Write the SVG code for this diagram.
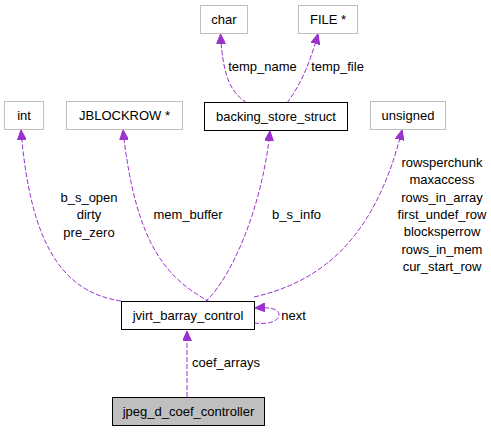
<svg xmlns="http://www.w3.org/2000/svg" width="491" height="432" viewBox="0 0 491 432">
<defs>
<style>
.n rect{fill:#fff;stroke:#bfbfbf;stroke-width:1}
.n.s rect{stroke:#000}
.n.h rect{fill:#bfbfbf;stroke:#000}
text{font-family:"Liberation Sans",Arial,sans-serif;font-size:13px;fill:#000}
.n text{text-anchor:middle}
.e path{fill:none;stroke:#9a32cd;stroke-width:1;stroke-dasharray:5,2;marker-end:url(#a)}
.l text{text-anchor:middle}
</style>
<marker id="a" markerUnits="userSpaceOnUse" markerWidth="11" markerHeight="9" refX="10" refY="4.5" orient="auto">
<path d="M0,0 L10,4.5 L0,9 z" fill="#9a32cd" stroke="#9a32cd"/>
</marker>
</defs>
<rect width="491" height="432" fill="#fff"/>
<g id="edges" class="e">
<path d="M247,103 C232,93 223,80 220.5,34"/>
<path d="M287,103 C298,88 308,70 318,34"/>
<path d="M121,301 C60,292 30,240 21,130"/>
<path d="M210,302 C170,280 136,250 123,130"/>
<path d="M205,302 C230,280 262,210 270,131"/>
<path d="M254,297 C320,282 375,240 402,130"/>
<path d="M254,323 C268,325 279,321 279,315 C279,309 271,307 255,308"/>
<path d="M187,397 L187,331"/>
</g>
<g class="l">
<text x="262.5" y="71">temp_name</text>
<text x="337.5" y="71">temp_file</text>
<text x="89" y="202">b_s_open</text>
<text x="89" y="219">dirty</text>
<text x="89" y="237">pre_zero</text>
<text x="188" y="219">mem_buffer</text>
<text x="296.5" y="219">b_s_info</text>
<text x="442" y="167">rowsperchunk</text>
<text x="442" y="184">maxaccess</text>
<text x="442" y="202">rows_in_array</text>
<text x="442" y="219">first_undef_row</text>
<text x="442" y="236">blocksperrow</text>
<text x="442" y="254">rows_in_mem</text>
<text x="442" y="271">cur_start_row</text>
<text x="293.5" y="320">next</text>
<text x="226" y="367">coef_arrays</text>
</g>
<g id="char" class="n"><rect x="200.5" y="5.5" width="47" height="28"/><text x="224" y="24">char</text></g>
<g id="file" class="n"><rect x="298.5" y="5.5" width="59" height="28"/><text x="328" y="24">FILE *</text></g>
<g id="backing_store_struct" class="n s"><rect x="204.5" y="102.5" width="143" height="28"/><text x="276" y="121">backing_store_struct</text></g>
<g id="int" class="n"><rect x="4.5" y="101.5" width="39" height="28"/><text x="24" y="120">int</text></g>
<g id="jblockrow" class="n"><rect x="66.5" y="101.5" width="116" height="28"/><text x="124.5" y="120">JBLOCKROW *</text></g>
<g id="unsigned" class="n"><rect x="370.5" y="101.5" width="75" height="28"/><text x="408" y="120">unsigned</text></g>
<g id="jvirt_barray_control" class="n s"><rect x="121.5" y="301.5" width="133" height="28"/><text x="188" y="320">jvirt_barray_control</text></g>
<g id="jpeg_d_coef_controller" class="n h"><rect x="112.5" y="397.5" width="152" height="28"/><text x="188.5" y="416">jpeg_d_coef_controller</text></g>
</svg>
